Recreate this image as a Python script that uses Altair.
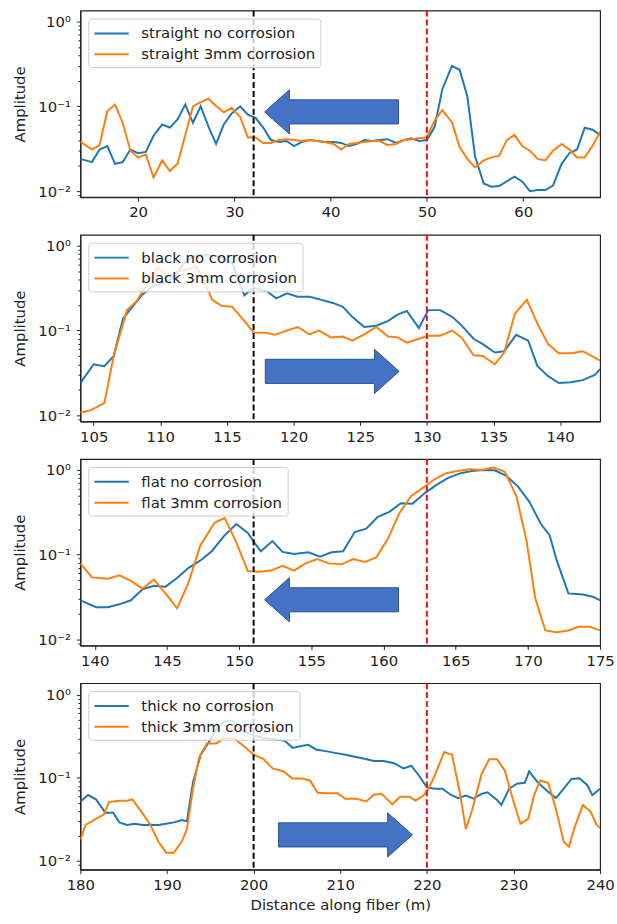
import altair as alt
import pandas as pd

BLUE = "#1f77b4"
ORANGE = "#ff7f0e"
FONT = "DejaVu Sans"

names = ["straight", "black", "flat", "thick"]
x_domains = [[14, 68], [104, 143], [139, 175], [180, 240]]
y_domains = [[0.0085, 1.345], [0.0085, 1.345], [0.0085, 1.345], [0.0078, 1.387]]
x_ticks = [
    [20, 30, 40, 50, 60],
    [105, 110, 115, 120, 125, 130, 135, 140],
    [140, 145, 150, 155, 160, 165, 170, 175],
    [180, 190, 200, 210, 220, 230, 240],
]
black_lines = [32, 117, 151, 200]
red_lines = [50, 130, 163, 220]
arrow_x = [40.1, 122.9, 156.4, 210.6]
arrow_y = [0.086, 0.033, 0.0294, 0.0205]
arrow_dir = ["left", "right", "left", "right"]

# ---- panel 1: straight ----
p1_x = [14, 15.2, 16, 16.8, 17.6, 18.4, 19.2, 20, 20.8, 21.6,
        22.5, 23.3, 24.1, 24.9, 25.7, 26.5, 27.3, 28.1, 28.9, 29.7,
        30.6, 31.4, 32.2, 33, 33.8, 34.6, 35.4, 36.2, 37, 37.8,
        38.6, 39.4, 40.3, 41.1, 41.9, 42.7, 43.5, 44.3, 45.1, 45.9,
        46.8, 47.6, 48.4, 49.2, 50, 50.8, 51.6, 52.6, 53.4, 54.2,
        55, 55.9, 56.7, 57.5, 58.3, 59.1, 59.9, 60.7, 61.5, 62.3,
        63.1, 64, 64.8, 65.6, 66.4, 67.2, 68]
p1_blue = [0.024, 0.022, 0.031, 0.034, 0.021, 0.022, 0.031, 0.028, 0.029, 0.045,
           0.061, 0.056, 0.070, 0.105, 0.064, 0.100, 0.058, 0.036, 0.061, 0.082,
           0.100, 0.080, 0.073, 0.056, 0.040, 0.038, 0.039, 0.034, 0.038, 0.040,
           0.039, 0.038, 0.038, 0.037, 0.034, 0.036, 0.040, 0.039, 0.040, 0.041,
           0.037, 0.040, 0.042, 0.039, 0.040, 0.057, 0.158, 0.30, 0.27, 0.132,
           0.026, 0.0123, 0.0113, 0.0115, 0.013, 0.0148, 0.013, 0.0100, 0.0103, 0.0103,
           0.0116, 0.021, 0.028, 0.031, 0.056, 0.053, 0.046]
p1_orange = [0.0385, 0.031, 0.035, 0.088, 0.105, 0.064, 0.030, 0.025, 0.027, 0.0145,
             0.023, 0.0173, 0.021, 0.046, 0.100, 0.112, 0.123, 0.101, 0.085, 0.096,
             0.075, 0.043, 0.043, 0.037, 0.037, 0.040, 0.041, 0.040, 0.039, 0.040,
             0.039, 0.038, 0.036, 0.031, 0.036, 0.037, 0.038, 0.039, 0.039, 0.035,
             0.036, 0.040, 0.041, 0.042, 0.043, 0.068, 0.090, 0.065, 0.033, 0.024,
             0.019, 0.023, 0.025, 0.026, 0.040, 0.046, 0.034, 0.030, 0.024, 0.023,
             0.030, 0.036, 0.031, 0.025, 0.025, 0.034, 0.050]

# ---- panel 2: black ----
p2_blue_x = [104, 105, 105.8, 106.5, 107.2, 107.9, 108.6, 109.4, 110.1, 111,
             111.9, 112.7, 113.6, 114.5, 115.4, 116.3, 117, 118, 118.7, 119.5,
             120.3, 121.2, 122.1, 123, 123.7, 124.4, 125.3, 126.2, 127.1, 127.8,
             128.5, 129.4, 130.1, 131, 131.9, 132.6, 133.5, 134.2, 135.1, 135.8,
             136.7, 137.6, 138.3, 139.1, 139.9, 140.8, 141.7, 142.6, 143]
p2_blue = [0.024, 0.040, 0.038, 0.050, 0.138, 0.19, 0.26, 0.33, 0.36, 0.42,
           0.66, 0.78, 0.78, 0.74, 0.63, 0.26, 0.32, 0.29, 0.24, 0.275,
           0.25, 0.25, 0.23, 0.21, 0.19, 0.145, 0.11, 0.114, 0.13, 0.154,
           0.17, 0.107, 0.174, 0.174, 0.145, 0.115, 0.08, 0.069, 0.055, 0.057,
           0.089, 0.076, 0.038, 0.029, 0.024, 0.0245, 0.026, 0.030, 0.035]
p2_orange_x = [104, 104.8, 105.8, 106.5, 107.5, 108.2, 108.9, 109.8, 110.5, 111.3,
               112, 112.7, 113.3, 113.9, 114.6, 115.4, 116.3, 117, 117.9, 118.6,
               119.5, 120.3, 121.2, 121.9, 122.8, 123.7, 124.4, 125.3, 126.2, 127.1,
               127.8, 128.5, 129.4, 130.1, 131, 131.9, 132.6, 133.5, 134.2, 135.1,
               135.8, 136.6, 137.5, 138.3, 139.1, 139.9, 140.8, 141.7, 142.6, 143]
p2_orange = [0.0107, 0.0115, 0.0139, 0.05, 0.174, 0.22, 0.33, 0.56, 0.42, 0.5,
             0.52, 0.57, 0.38, 0.23, 0.196, 0.19, 0.13, 0.095, 0.094, 0.089,
             0.1, 0.11, 0.09, 0.1, 0.083, 0.085, 0.076, 0.09, 0.11, 0.085,
             0.083, 0.072, 0.08, 0.087, 0.087, 0.1, 0.083, 0.051, 0.05, 0.04,
             0.055, 0.158, 0.23, 0.12, 0.069, 0.054, 0.054, 0.057, 0.048, 0.044]

# ---- panel 3: flat ----
p3_blue_x = [139, 140.1, 140.9, 141.7, 142.5, 143.3, 144.1, 144.9, 145.7, 146.5,
             147.3, 148.1, 149, 149.8, 150.6, 151.1, 151.5, 152.3, 153, 153.8,
             154.8, 155.6, 156.4, 157.2, 158, 158.8, 159.6, 160.4, 161.2, 162,
             162.9, 163.7, 164.5, 165.3, 166.1, 166.9, 167.7, 168.5, 169.3, 170.1,
             170.9, 171.5, 172, 172.8, 173.8, 174.5, 175]
p3_blue = [0.029, 0.024, 0.024, 0.026, 0.029, 0.039, 0.043, 0.042, 0.053, 0.07,
           0.085, 0.11, 0.17, 0.23, 0.18, 0.135, 0.11, 0.145, 0.108, 0.102,
           0.107, 0.095, 0.107, 0.11, 0.185, 0.203, 0.28, 0.32, 0.405, 0.40,
           0.54, 0.67, 0.81, 0.91, 0.97, 1.0, 0.99, 0.85, 0.64, 0.42,
           0.23, 0.17, 0.085, 0.035, 0.034, 0.032, 0.029]
p3_orange_x = [139, 139.8, 140.9, 141.7, 142.5, 143.3, 144.1, 144.9, 145.7, 146.5,
               147.3, 148.3, 149, 149.8, 150.6, 151.4, 152.2, 153, 153.8, 154.6,
               155.4, 156.2, 157.1, 157.9, 158.7, 159.5, 160.3, 161.1, 161.9, 162.7,
               163.5, 164.3, 165.1, 166, 166.8, 167.6, 168.4, 169.2, 169.9, 170.5,
               171.2, 172, 172.8, 173.5, 174.3, 175]
p3_orange = [0.079, 0.054, 0.052, 0.057, 0.049, 0.040, 0.051, 0.035, 0.0233, 0.047,
             0.128, 0.24, 0.27, 0.14, 0.064, 0.063, 0.065, 0.074, 0.065, 0.079,
             0.089, 0.079, 0.077, 0.089, 0.082, 0.093, 0.154, 0.31, 0.49, 0.61,
             0.77, 0.91, 0.97, 1.02, 1.0, 1.07, 0.95, 0.49, 0.147, 0.031,
             0.0128, 0.0122, 0.0128, 0.0141, 0.0141, 0.0128]

# ---- panel 4: thick ----
p4_blue_x = [180, 180.9, 181.8, 182.9, 183.8, 184.5, 185.4, 186.3, 187.2, 188.1,
             189, 189.9, 190.8, 191.7, 192.3, 193, 193.9, 194.8, 195.7, 196.6,
             197.5, 198.4, 199.3, 200.2, 201.3, 202.5, 203.6, 204.5, 205.4, 206.3,
             207.2, 208.3, 209.4, 210.6, 211.7, 212.8, 213.9, 215, 216.2, 217.3,
             218.2, 219.1, 220, 220.9, 221.8, 222.7, 223.6, 224.5, 225.4, 226.3,
             227, 228.1, 228.6, 229.5, 230.4, 231.3, 231.8, 232.8, 234, 234.9,
             235.8, 236.7, 237.6, 238.5, 239.1, 240]
p4_blue = [0.052, 0.062, 0.055, 0.038, 0.038, 0.029, 0.027, 0.028, 0.027, 0.027,
           0.027, 0.028, 0.029, 0.031, 0.030, 0.088, 0.19, 0.265, 0.38, 0.48,
           0.49, 0.38, 0.35, 0.32, 0.30, 0.29, 0.28, 0.23, 0.24, 0.25,
           0.22, 0.21, 0.20, 0.19, 0.18, 0.17, 0.16, 0.16, 0.15, 0.13,
           0.14, 0.106, 0.077, 0.074, 0.074, 0.063, 0.057, 0.061, 0.056, 0.064,
           0.067, 0.054, 0.047, 0.074, 0.085, 0.087, 0.12, 0.088, 0.068, 0.057,
           0.074, 0.097, 0.099, 0.082, 0.062, 0.074]
p4_orange_x = [180, 180.6, 181.8, 182.7, 183.3, 184.5, 185.4, 186, 186.9, 188.1,
               189, 189.9, 190.8, 191.7, 192.3, 193, 193.7, 194.6, 195.7, 196.6,
               197.7, 198.9, 200, 201.1, 202.2, 203.4, 204.5, 205.6, 206.5, 207.4,
               208.5, 209.7, 210.6, 211.9, 213, 213.9, 214.8, 216, 216.9, 218,
               218.7, 219.6, 220.2, 220.9, 222, 222.9, 223.8, 224.5, 225.2, 226.3,
               227.2, 228.1, 229, 229.9, 230.8, 231.7, 232.4, 233.1, 234, 234.9,
               235.8, 236.4, 237.1, 238, 238.9, 239.6, 240]
p4_orange = [0.018, 0.027, 0.032, 0.036, 0.051, 0.053, 0.053, 0.055, 0.041, 0.027,
             0.017, 0.0125, 0.0125, 0.017, 0.024, 0.073, 0.175, 0.26, 0.26, 0.30,
             0.30, 0.24, 0.19, 0.17, 0.13, 0.12, 0.098, 0.098, 0.093, 0.066,
             0.065, 0.065, 0.056, 0.056, 0.052, 0.063, 0.064, 0.048, 0.059, 0.059,
             0.053, 0.061, 0.074, 0.106, 0.205, 0.19, 0.067, 0.024, 0.04, 0.11,
             0.168, 0.168, 0.122, 0.056, 0.028, 0.032, 0.063, 0.093, 0.087, 0.042,
             0.017, 0.0148, 0.026, 0.047, 0.039, 0.027, 0.025]

series = [
    (p1_x, p1_blue, p1_x, p1_orange),
    (p2_blue_x, p2_blue, p2_orange_x, p2_orange),
    (p3_blue_x, p3_blue, p3_orange_x, p3_orange),
    (p4_blue_x, p4_blue, p4_orange_x, p4_orange),
]

ARROW_SHAPES = {
    "right": "M -1 -0.18 L 0.63 -0.18 L 0.63 -0.33 L 1 0 L 0.63 0.33 L 0.63 0.18 L -1 0.18 Z",
    "left": "M 1 -0.18 L -0.63 -0.18 L -0.63 -0.33 L -1 0 L -0.63 0.33 L -0.63 0.18 L 1 0.18 Z",
}
LEGEND_LINE = "M -2 0 L 2 0"
LABEL_EXPR = "datum.value == 1 ? '10⁰' : (datum.value == 0.1 ? '10⁻¹' : '10⁻²')"
MINOR = [0.009] + [k / 100 for k in range(2, 10)] + [k / 10 for k in range(2, 10)]


def make_panel(i):
    bx, by, ox, oy = series[i]
    lab_no = f"{names[i]} no corrosion"
    lab_3 = f"{names[i]} 3mm corrosion"
    df = pd.concat([
        pd.DataFrame({"x": bx, "amp": by, "series": lab_no}),
        pd.DataFrame({"x": ox, "amp": oy, "series": lab_3}),
    ], ignore_index=True)

    xs = alt.Scale(domain=x_domains[i], nice=False, zero=False)
    ys = alt.Scale(type="log", domain=y_domains[i], nice=False)
    x_title = "Distance along fiber (m)" if i == 3 else None
    if x_title:
        xaxis = alt.Axis(values=x_ticks[i], grid=False, tickSize=4, labelPadding=4,
                         titlePadding=5, labelFlush=False, title=x_title)
    else:
        xaxis = alt.Axis(values=x_ticks[i], grid=False, tickSize=4, labelPadding=4,
                         labelFlush=False, title=None)
    x_enc = alt.X("x:Q", scale=xs, axis=xaxis)

    lines = alt.Chart(df).mark_line(strokeWidth=2, clip=True).encode(
        x=x_enc,
        y=alt.Y("amp:Q", scale=ys,
                axis=alt.Axis(values=[0.01, 0.1, 1], labelExpr=LABEL_EXPR, title="Amplitude",
                              tickSize=4, labelPadding=6, titlePadding=10, grid=False, orient="left")),
        color=alt.Color("series:N",
                        scale=alt.Scale(domain=[lab_no, lab_3], range=[BLUE, ORANGE]),
                        legend=alt.Legend(title=None, orient="top-left", offset=8,
                                          symbolType=LEGEND_LINE, symbolSize=300,
                                          symbolStrokeWidth=2, labelFontSize=15, labelFont=FONT,
                                          labelColor="#222", labelLimit=600, padding=5, rowPadding=3,
                                          symbolOffset=8.5, labelOffset=20,
                                          fillColor="rgba(255,255,255,0.8)", strokeColor="#cccccc",
                                          cornerRadius=3)),
    )

    rb = alt.Chart(pd.DataFrame({"x": [black_lines[i]]})).mark_rule(
        color="black", strokeDash=[6, 3], strokeWidth=2).encode(x=x_enc)
    rr = alt.Chart(pd.DataFrame({"x": [red_lines[i]]})).mark_rule(
        color="#ee1111", strokeDash=[6, 3], strokeWidth=2).encode(x=x_enc)

    arrow = alt.Chart(pd.DataFrame({"x": [arrow_x[i]], "amp": [arrow_y[i]]})).mark_point(
        shape=ARROW_SHAPES[arrow_dir[i]], filled=True, size=18225, fill="#4472C4",
        stroke="#2F528F", strokeWidth=1, opacity=1).encode(
        x=x_enc,
        y=alt.Y("amp:Q", scale=ys,
                axis=alt.Axis(values=[v for v in MINOR if y_domains[i][0] <= v <= y_domains[i][1]],
                              labels=False, domain=False, ticks=True, tickSize=2.5, title=None,
                              grid=False, orient="left")),
    )

    return alt.layer(lines, rb, rr, arrow).resolve_axis(y="independent").properties(width=524, height=188)


chart = alt.vconcat(*[make_panel(i) for i in range(4)], spacing=38, bounds="flush").resolve_scale(
    color="independent", x="independent", y="independent"
).properties(
    padding={"left": 12, "top": 5, "right": 2, "bottom": 0}
).configure(font=FONT).configure_view(
    stroke="#222", strokeWidth=1.2
).configure_axis(
    labelFont=FONT, titleFont=FONT, labelFontSize=15, titleFontSize=15, titleFontWeight="normal",
    labelColor="#222", titleColor="#222", domainColor="#222", tickColor="#222", domainWidth=1.2
)

chart.save("out.html", embed_options={"renderer": "svg", "actions": False})
